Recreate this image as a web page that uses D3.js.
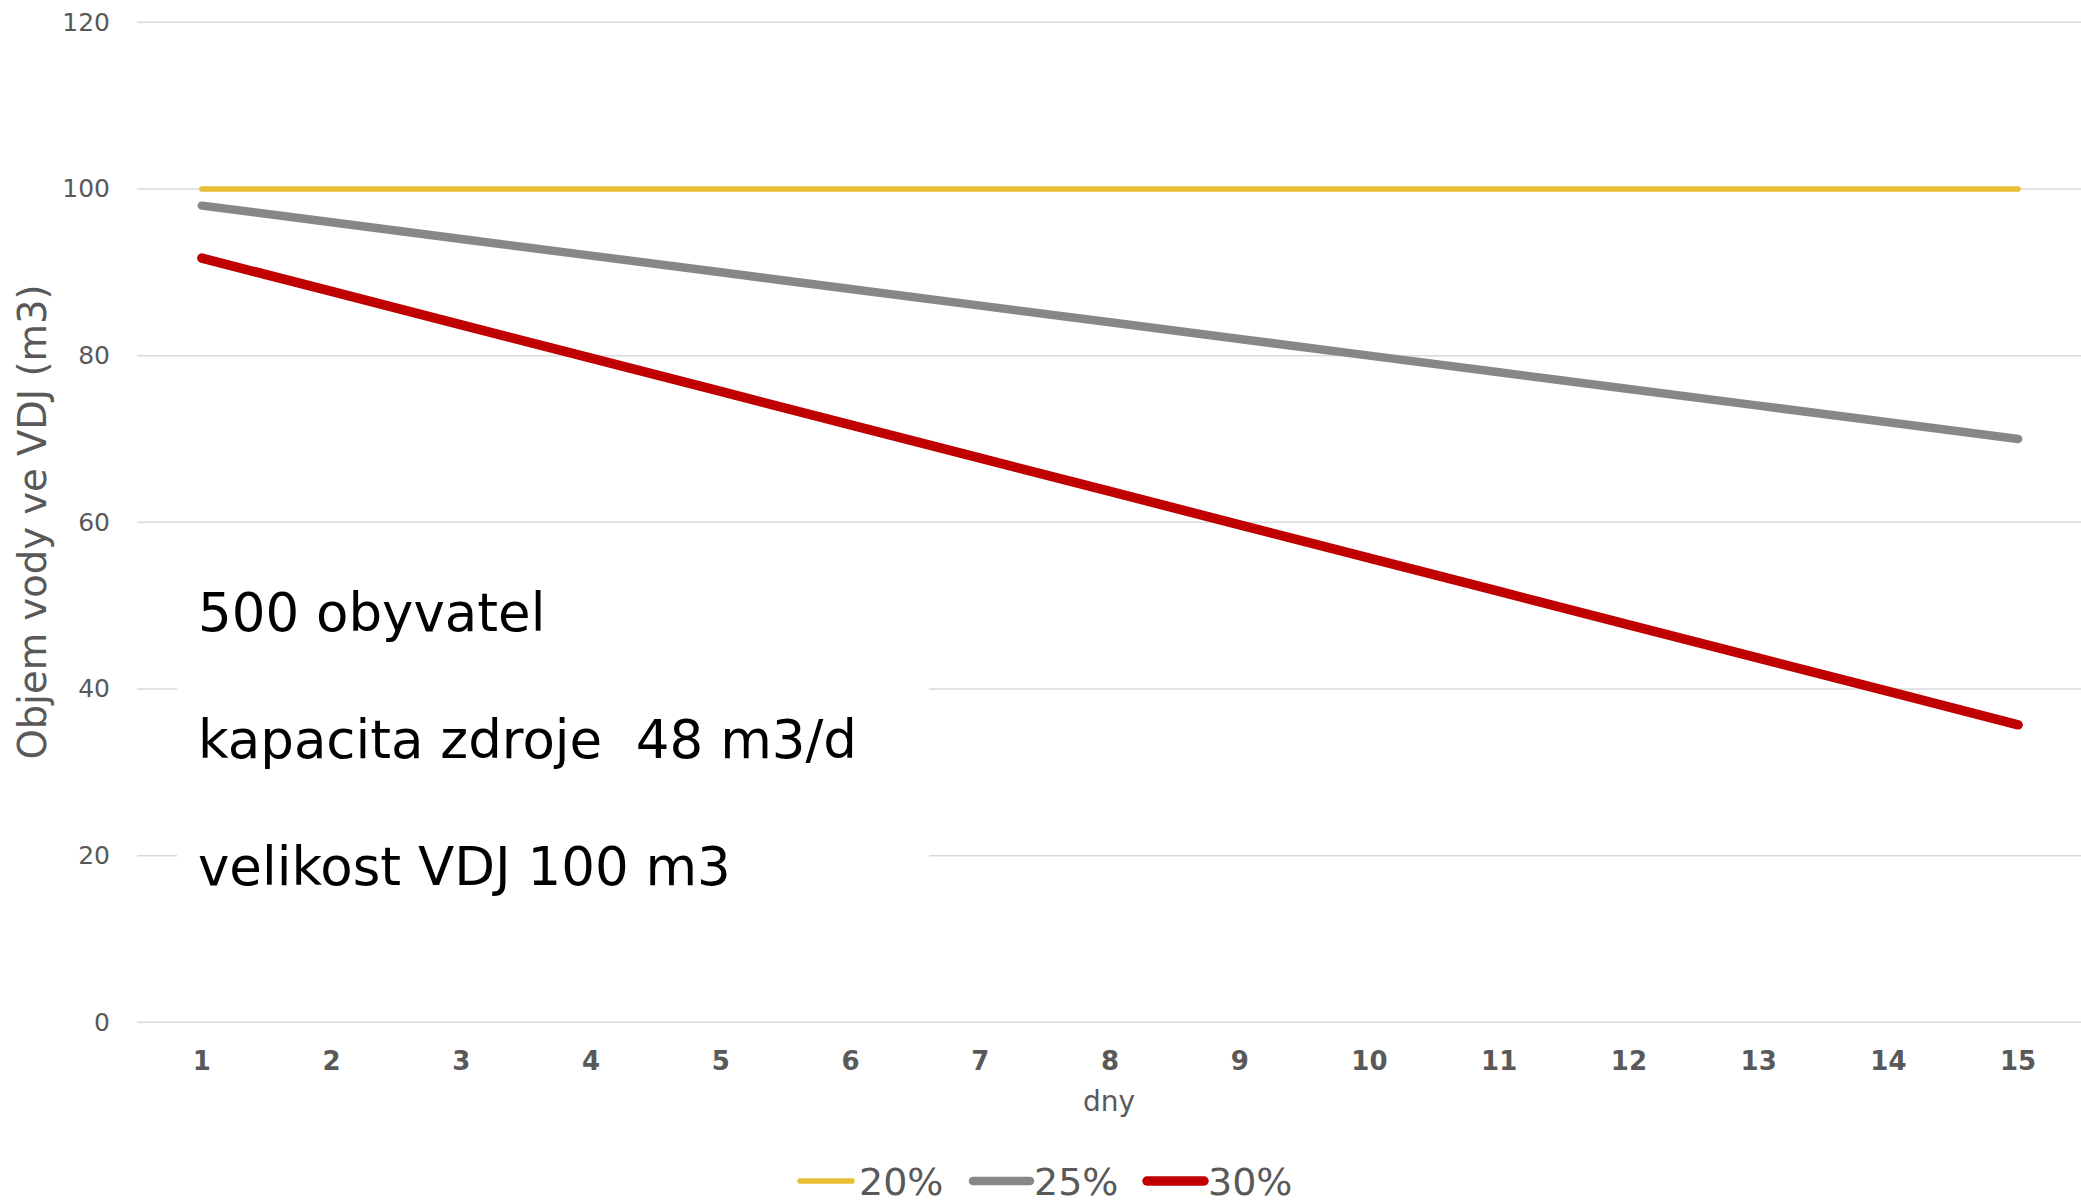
<!DOCTYPE html>
<html>
<head>
<meta charset="utf-8">
<script src="https://cdn.jsdelivr.net/npm/d3@7"></script>
<style>
  html, body { margin: 0; padding: 0; background: #fff; }
  svg { display: block; }
</style>
</head>
<body>
<script>
const days = [1,2,3,4,5,6,7,8,9,10,11,12,13,14,15];
const seriesNames = ["20%", "25%", "30%"];
const values20 = [100,100,100,100,100,100,100,100,100,100,100,100,100,100,100];
const values25 = [98,96,94,92,90,88,86,84,82,80,78,76,74,72,70];
const values30 = [91.7,87.7,83.7,79.7,75.7,71.7,67.7,63.7,59.7,55.7,51.7,47.7,43.7,39.7,35.7];
const yTicks = [0,20,40,60,80,100,120];
const yTitle = "Objem vody ve VDJ (m3)";
const xTitle = "dny";
const notes = ["500 obyvatel", "kapacita zdroje  48 m3/d", "velikost VDJ 100 m3"];

const colors = ["#E6BF35", "#878787", "#C00000"];
const widths = [5.5, 8.5, 9.5];
const allValues = [values20, values25, values30];

const W = 2081, H = 1201;
const font = "'DejaVu Sans', Verdana, sans-serif";

const svg = d3.select("body").append("svg").attr("width", W).attr("height", H);

const x = d3.scaleBand().domain(days).range([137, 2083]);
const y = d3.scaleLinear().domain([0, 120]).range([1022.3, 22.3]);

// gridlines
svg.append("g").selectAll("line").data(yTicks).join("line")
  .attr("x1", 137).attr("x2", W)
  .attr("y1", d => y(d)).attr("y2", d => y(d))
  .attr("stroke", "#d9d9d9").attr("stroke-width", 1.5);

// y tick labels
svg.append("g").selectAll("text").data(yTicks).join("text")
  .attr("x", 110).attr("y", d => y(d))
  .attr("text-anchor", "end").attr("dominant-baseline", "central")
  .attr("font-family", font).attr("font-size", 25).attr("fill", "#595959")
  .text(d => d);

// x tick labels
svg.append("g").selectAll("text").data(days).join("text")
  .attr("x", d => x(d) + x.bandwidth() / 2).attr("y", 1070)
  .attr("text-anchor", "middle")
  .attr("font-family", font).attr("font-size", 26).attr("font-weight", "bold").attr("fill", "#595959")
  .text(d => d);

// axis titles
svg.append("text")
  .attr("transform", "translate(32,522) rotate(-90)")
  .attr("text-anchor", "middle").attr("dominant-baseline", "central")
  .attr("font-family", font).attr("font-size", 38.5).attr("fill", "#595959")
  .text(yTitle);

svg.append("text")
  .attr("x", 1109).attr("y", 1111)
  .attr("text-anchor", "middle")
  .attr("font-family", font).attr("font-size", 28).attr("fill", "#595959")
  .text(xTitle);

// lines
const line = d3.line().x((d, i) => x(days[i]) + x.bandwidth() / 2).y(d => y(d));
svg.append("g").selectAll("path").data(allValues).join("path")
  .attr("d", d => line(d))
  .attr("fill", "none")
  .attr("stroke", (d, i) => colors[i])
  .attr("stroke-width", (d, i) => widths[i])
  .attr("stroke-linecap", "round").attr("stroke-linejoin", "round");

// annotation box
svg.append("rect").attr("x", 177).attr("y", 560).attr("width", 752).attr("height", 350).attr("fill", "#fff");
svg.append("g").selectAll("text").data(notes).join("text")
  .attr("x", 198).attr("y", (d, i) => 631 + i * 127)
  .style("white-space", "pre")
  .attr("font-family", font).attr("font-size", 53).attr("fill", "#000")
  .text(d => d);

// legend
const legendItems = [
  {x1: 800, x2: 852, tx: 859},
  {x1: 973, x2: 1030, tx: 1034},
  {x1: 1147, x2: 1204, tx: 1208}
];
const lg = svg.append("g");
legendItems.forEach((it, i) => {
  lg.append("line").attr("x1", it.x1).attr("x2", it.x2).attr("y1", 1181).attr("y2", 1181)
    .attr("stroke", colors[i]).attr("stroke-width", widths[i]).attr("stroke-linecap", "round");
  lg.append("text").attr("x", it.tx).attr("y", 1182)
    .attr("dominant-baseline", "central")
    .attr("font-family", font).attr("font-size", 38).attr("fill", "#595959")
    .text(seriesNames[i]);
});
</script>
</body>
</html>
